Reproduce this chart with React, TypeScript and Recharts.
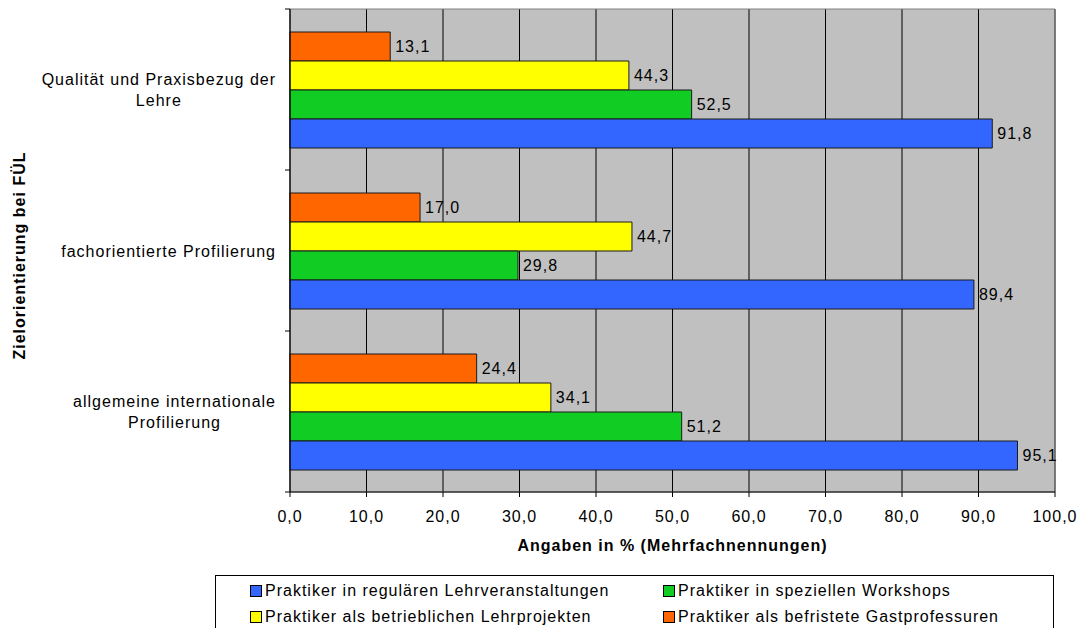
import React from 'react';
import { BarChart, Bar, XAxis, YAxis, CartesianGrid, LabelList, ReferenceArea } from 'recharts';

// ---------- data ----------
const categoryLines: string[][] = [
  ['Qualität und Praxisbezug der', 'Lehre'],
  ['fachorientierte Profilierung'],
  ['allgemeine internationale', 'Profilierung'],
];
const categories = categoryLines.map((l) => l.join(' '));

const gastprofessuren = [13.1, 17.0, 24.4];
const lehrprojekte = [44.3, 44.7, 34.1];
const workshops = [52.5, 29.8, 51.2];
const lehrveranstaltungen = [91.8, 89.4, 95.1];

const xTicks = [0, 10, 20, 30, 40, 50, 60, 70, 80, 90, 100];

const seriesNames = {
  lehrveranstaltungen: 'Praktiker in regulären Lehrveranstaltungen',
  workshops: 'Praktiker in speziellen Workshops',
  lehrprojekte: 'Praktiker als betrieblichen Lehrprojekten',
  gastprofessuren: 'Praktiker als befristete Gastprofessuren',
};
const seriesColors = {
  lehrveranstaltungen: '#3366FF',
  workshops: '#11CC22',
  lehrprojekte: '#FFFF00',
  gastprofessuren: '#FF6600',
};
// order of bars from top to bottom inside each category
const barOrder = ['gastprofessuren', 'lehrprojekte', 'workshops', 'lehrveranstaltungen'] as const;
// legend order
const legendRows = [
  ['lehrveranstaltungen', 'workshops'],
  ['lehrprojekte', 'gastprofessuren'],
] as const;

const xTitle = 'Angaben in % (Mehrfachnennungen)';
const yTitle = 'Zielorientierung bei FÜL';

const data = categories.map((c, i) => ({
  category: c,
  gastprofessuren: gastprofessuren[i],
  lehrprojekte: lehrprojekte[i],
  workshops: workshops[i],
  lehrveranstaltungen: lehrveranstaltungen[i],
}));

// ---------- layout ----------
const FONT = "'Liberation Sans', Arial, sans-serif";
const FS = 16;
const LS = 1;
const W = 1081;
const H = 628;
const MARGIN = { top: 9, right: 26, bottom: 96, left: 0 };
const X_AXIS_H = 40;
const Y_AXIS_W = 290;
const PLOT_H = H - MARGIN.top - MARGIN.bottom - X_AXIS_H;
const BAND = PLOT_H / categories.length;

const fmt = (v: any) => Number(v).toFixed(1).replace('.', ',');

let ctx: CanvasRenderingContext2D | null = null;
function measure(text: string): number {
  if (!ctx) ctx = document.createElement('canvas').getContext('2d');
  if (!ctx) return text.length * 8;
  ctx.font = `${FS}px ${FONT}`;
  return ctx.measureText(text).width + text.length * LS;
}

const CategoryTick = (props: any) => {
  const { x, y, payload } = props;
  const idx = categories.indexOf(payload.value);
  const lines = idx >= 0 ? categoryLines[idx] : [String(payload.value)];
  const right = x - 14;
  const maxW = Math.max(...lines.map(measure));
  const cx = right - maxW / 2;
  const lh = 21;
  const startY = y - ((lines.length - 1) * lh) / 2;
  return (
    <g>
      <line x1={x - 5} x2={x} y1={y - BAND / 2} y2={y - BAND / 2} stroke="#000" />
      {idx === categories.length - 1 && (
        <line x1={x - 5} x2={x} y1={y + BAND / 2} y2={y + BAND / 2} stroke="#000" />
      )}
      <text
        x={cx}
        y={startY}
        textAnchor="middle"
        dominantBaseline="central"
        fill="#000"
        fontSize={FS}
        fontFamily={FONT}
        letterSpacing={LS}
      >
        {lines.map((l, i) => (
          <tspan key={i} x={cx} y={startY + i * lh}>
            {l}
          </tspan>
        ))}
      </text>
    </g>
  );
};

const XTitle = (props: any) => {
  const { viewBox } = props;
  const cx = viewBox.x + viewBox.width / 2;
  return (
    <text
      x={cx}
      y={viewBox.y + 59}
      textAnchor="middle"
      fill="#000"
      fontSize={FS}
      fontWeight="bold"
      fontFamily={FONT}
      letterSpacing={LS}
    >
      {xTitle}
    </text>
  );
};

const YTitle = (props: any) => {
  const { viewBox } = props;
  const cy = viewBox.y + viewBox.height / 2 + 5;
  return (
    <text
      x={19}
      y={cy}
      transform={`rotate(-90, 19, ${cy})`}
      textAnchor="middle"
      dominantBaseline="central"
      fill="#000"
      fontSize={16}
      fontWeight="bold"
      fontFamily={FONT}
      letterSpacing={LS}
    >
      {yTitle}
    </text>
  );
};

const LegendBox = () => (
  <div
    style={{
      position: 'absolute',
      left: 215,
      top: 575,
      width: 839,
      height: 80,
      border: '1px solid #000',
      background: '#fff',
      boxSizing: 'border-box',
      fontFamily: FONT,
      fontSize: FS,
      letterSpacing: LS,
      color: '#000',
    }}
  >
    {legendRows.map((row, r) => (
      <div key={r} style={{ position: 'absolute', top: 5 + r * 26, left: 0, height: 20, width: '100%' }}>
        {row.map((key, c) => (
          <div
            key={key}
            style={{
              position: 'absolute',
              left: c === 0 ? 34 : 447,
              top: 0,
              display: 'flex',
              alignItems: 'center',
              height: 20,
              whiteSpace: 'nowrap',
            }}
          >
            <span
              style={{
                display: 'inline-block',
                width: 10,
                height: 10,
                background: seriesColors[key],
                border: '1px solid #000',
                marginRight: 3,
              }}
            />
            <span>{seriesNames[key]}</span>
          </div>
        ))}
      </div>
    ))}
  </div>
);

export default function App() {
  return (
    <div style={{ position: 'absolute', left: 0, top: 0, width: W, height: H, background: '#fff', overflow: 'hidden' }}>
      <BarChart
        width={W}
        height={H}
        data={data}
        layout="vertical"
        margin={MARGIN}
        barSize={29}
        barGap={0}
        barCategoryGap={22}
      >
        <CartesianGrid horizontal={false} vertical stroke="#000" fill="#C0C0C0" fillOpacity={1} />
        <ReferenceArea x1={0} x2={100} stroke="#808080" fill="none" strokeWidth={1} ifOverflow="visible" />
        <XAxis
          type="number"
          domain={[0, 100]}
          ticks={xTicks}
          interval={0}
          height={X_AXIS_H}
          tickFormatter={fmt}
          axisLine={{ stroke: '#000' }}
          tickLine={{ stroke: '#000' }}
          tickSize={5}
          tickMargin={14}
          tick={{ fill: '#000', fontSize: FS, fontFamily: FONT, letterSpacing: LS }}
          label={<XTitle />}
        />
        <YAxis
          type="category"
          dataKey="category"
          width={Y_AXIS_W}
          axisLine={{ stroke: '#000' }}
          tickLine={false}
          tickSize={0}
          tickMargin={0}
          interval={0}
          tick={<CategoryTick />}
          label={<YTitle />}
        />
        {barOrder.map((key) => (
          <Bar
            key={key}
            dataKey={key}
            name={seriesNames[key]}
            fill={seriesColors[key]}
            stroke="#1a1a1a"
            strokeWidth={1}
            isAnimationActive={false}
          >
            <LabelList
              dataKey={key}
              position="right"
              offset={5}
              formatter={fmt}
              fill="#000"
              fontSize={FS}
              fontFamily={FONT}
              letterSpacing={LS}
            />
          </Bar>
        ))}
      </BarChart>
      <LegendBox />
    </div>
  );
}
